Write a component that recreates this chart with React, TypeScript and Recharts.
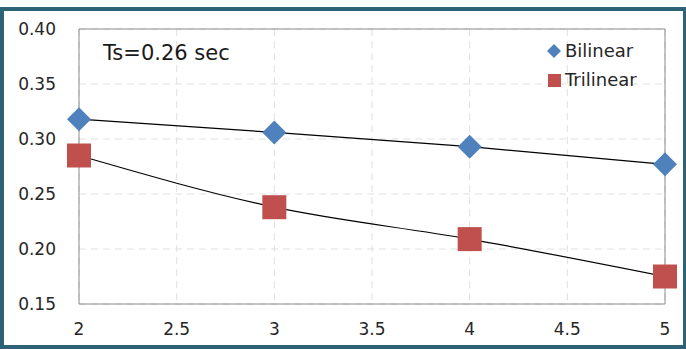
import {
  ComposedChart,
  CartesianGrid,
  Legend,
  Line,
  ReferenceLine,
  Scatter,
  XAxis,
  YAxis,
} from 'recharts'

const blockSizes = [2, 3, 4, 5]
const bilinear = [0.318, 0.306, 0.293, 0.277]
const trilinear = [0.285, 0.238, 0.209, 0.175]

const xTicks = [2, 2.5, 3, 3.5, 4, 4.5, 5]
const yTicks = [0.15, 0.2, 0.25, 0.3, 0.35, 0.4]

const seriesNames = ['Bilinear', 'Trilinear']
const note = 'Ts=0.26 sec'

const BLUE = '#4f81bd'
const RED = '#c0504d'
const FRAME = '#2d6277'
const AXIS = '#8c8c8c'
const GRID = '#e0e0e0'
const FONT = '"DejaVu Sans", sans-serif'

const rows = blockSizes.map((x, i) => ({
  x,
  bilinear: bilinear[i],
  trilinear: trilinear[i],
}))

function Diamond({ cx, cy }: any) {
  const r = 12
  return (
    <polygon
      points={`${cx},${cy - r} ${cx + r},${cy} ${cx},${cy + r} ${cx - r},${cy}`}
      fill={BLUE}
    />
  )
}

function Square({ cx, cy }: any) {
  const s = 24
  return <rect x={cx - s / 2} y={cy - s / 2} width={s} height={s} fill={RED} />
}

function LegendBox() {
  const row = { display: 'flex', alignItems: 'center', height: 29 }
  const label = { fontFamily: FONT, fontSize: 18, color: '#262626', marginLeft: 3 }
  return (
    <div>
      <div style={row}>
        <svg width={16} height={16}>
          <polygon points='8,1 15,8 8,15 1,8' fill={BLUE} />
        </svg>
        <span style={label}>{seriesNames[0]}</span>
      </div>
      <div style={row}>
        <svg width={16} height={16}>
          <rect x={2} y={2} width={13} height={13} fill={RED} />
        </svg>
        <span style={label}>{seriesNames[1]}</span>
      </div>
    </div>
  )
}

export default function App() {
  return (
    <div
      style={{
        position: 'absolute',
        left: 0,
        top: 0,
        width: 686,
        height: 349,
        background: '#fff',
        overflow: 'hidden',
      }}
    >
      {/* caption sitting above the frame, mostly cropped */}
      <div
        style={{
          position: 'absolute',
          left: 322,
          top: -19,
          fontFamily: FONT,
          fontSize: 18,
          color: '#222',
        }}
      >
        (b)
      </div>
      <ComposedChart
        width={686}
        height={349}
        data={rows}
        margin={{ top: 29, right: 21, bottom: 15, left: 0 }}
      >
        <CartesianGrid stroke={GRID} strokeDasharray='7 5' />
        <XAxis
          dataKey='x'
          type='number'
          domain={[2, 5]}
          ticks={xTicks}
          height={30}
          stroke={AXIS}
          tickLine={false}
          tickSize={0}
          tickMargin={19}
          tick={{ fill: '#262626', fontSize: 17, fontFamily: FONT }}
        />
        <YAxis
          type='number'
          domain={[0.15, 0.4]}
          ticks={yTicks}
          width={79}
          stroke={AXIS}
          tickLine={false}
          tickSize={0}
          tickMargin={23}
          tickFormatter={(v: number) => v.toFixed(2)}
          tick={{ fill: '#262626', fontSize: 17, fontFamily: FONT }}
        />
        <ReferenceLine y={0.4} stroke={AXIS} />
        <ReferenceLine x={5} stroke={AXIS} />
        <Line
          dataKey='bilinear'
          type='monotone'
          stroke='#000'
          strokeWidth={1.2}
          dot={false}
          activeDot={false}
          legendType='none'
          isAnimationActive={false}
        />
        <Line
          dataKey='trilinear'
          type='monotone'
          stroke='#000'
          strokeWidth={1.2}
          dot={false}
          activeDot={false}
          legendType='none'
          isAnimationActive={false}
        />
        <Scatter
          name={seriesNames[0]}
          dataKey='bilinear'
          shape={<Diamond />}
          isAnimationActive={false}
        />
        <Scatter
          name={seriesNames[1]}
          dataKey='trilinear'
          shape={<Square />}
          isAnimationActive={false}
        />
        <text
          x={103}
          y={60}
          fontFamily={FONT}
          fontSize={21}
          fill='#1a1a1a'
        >
          {note}
        </text>
        <Legend
          layout='vertical'
          align='center'
          verticalAlign='middle'
          content={<LegendBox />}
          wrapperStyle={{ top: 36, left: 546, width: 'auto' }}
        />
      </ComposedChart>
      {/* outer frame */}
      <div
        style={{
          position: 'absolute',
          left: 0,
          top: 7,
          right: 0,
          bottom: 0,
          borderStyle: 'solid',
          borderColor: FRAME,
          borderWidth: '4px 3px 4px 4px',
          pointerEvents: 'none',
        }}
      />
    </div>
  )
}
